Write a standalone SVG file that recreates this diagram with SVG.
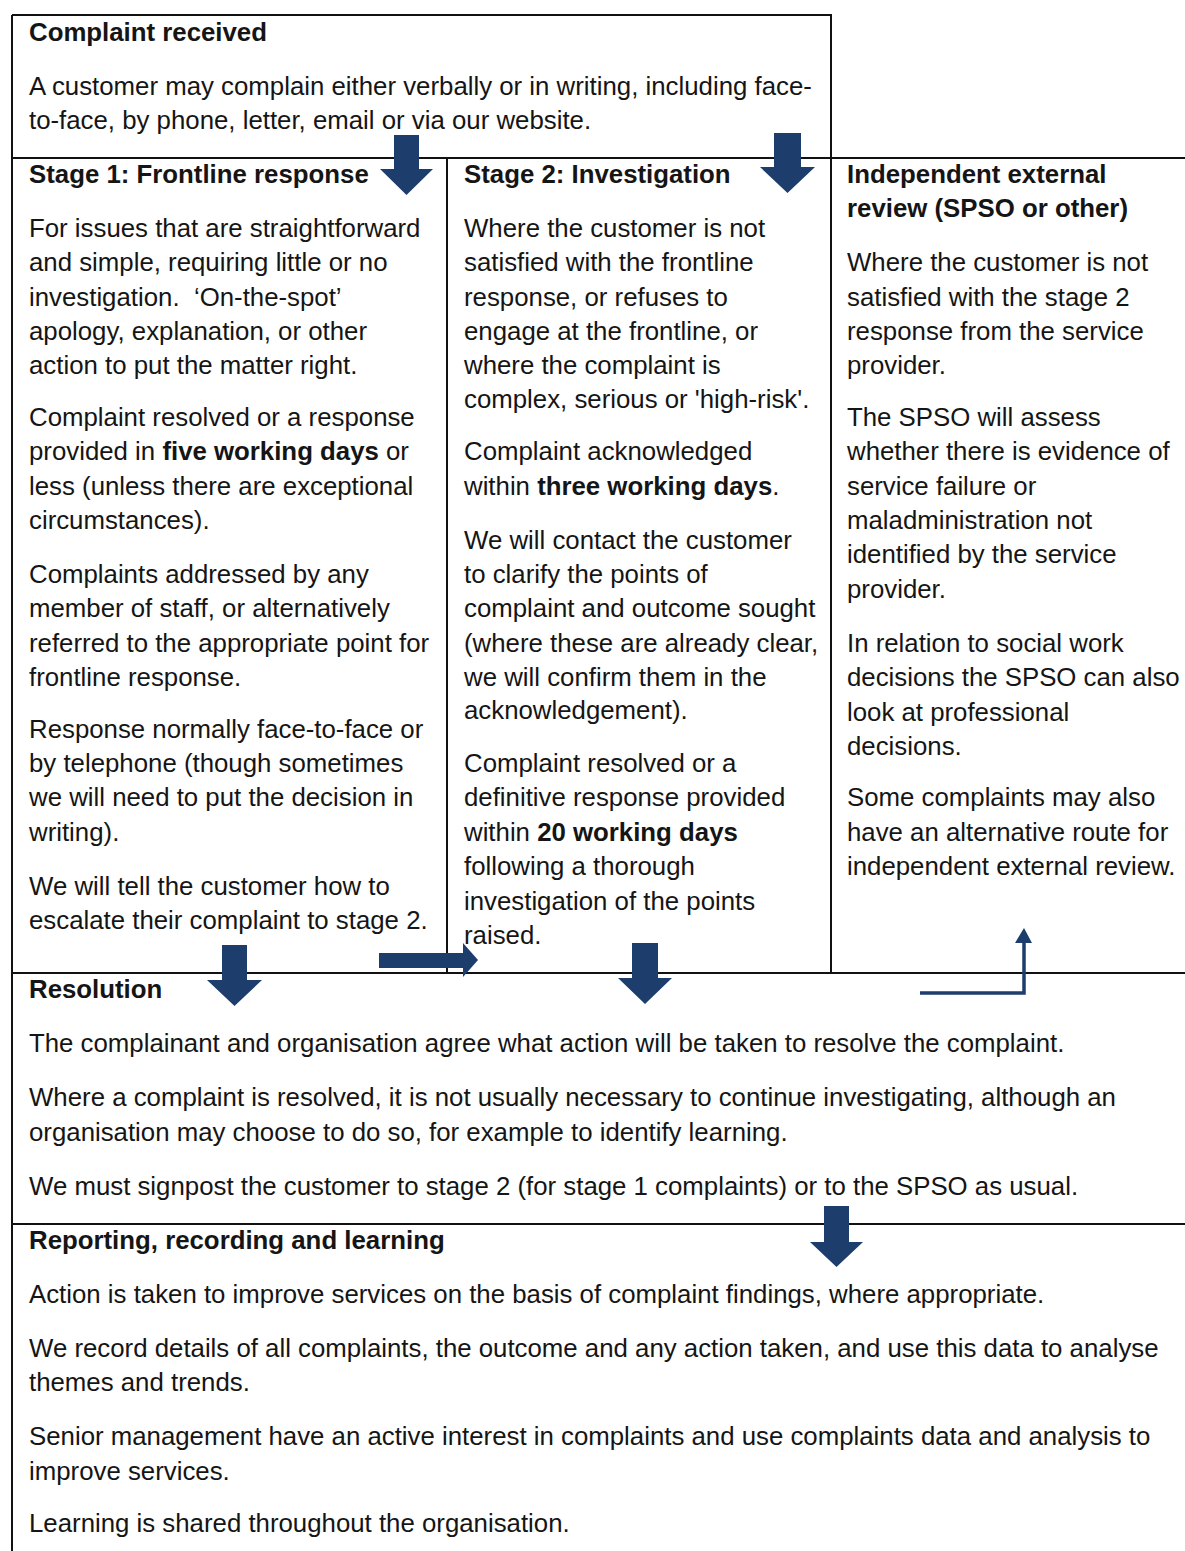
<svg xmlns="http://www.w3.org/2000/svg" width="1185" height="1551" viewBox="0 0 1185 1551">
<style>
text{font-family:"Liberation Sans",Arial,sans-serif;font-size:25.8px;fill:#151515}
.h{font-weight:bold}
.b{font-weight:bold}
.ln{stroke:#111;stroke-width:2;fill:none}
.ar{fill:#1d3d6c}
.thin{stroke:#1d3d6c;stroke-width:3.5;fill:none}
</style>
<rect width="1185" height="1551" fill="#fff"/>
<g id="frame">
<path class="ln" d="M12 15H831V973M12 15V1551M12 158H1185M447 158V973M12 973H1185M12 1224H1185"/>
</g>
<g id="complaint-received">
<text x="29" y="41" class="h">Complaint received</text>
<text x="29" y="95">A customer may complain either verbally or in writing, including face-</text>
<text x="29" y="129">to-face, by phone, letter, email or via our website.</text>
</g>
<g id="stage1">
<text x="29" y="183" class="h">Stage 1: Frontline response</text>
<text x="29" y="237">For issues that are straightforward</text>
<text x="29" y="271">and simple, requiring little or no</text>
<text x="29" y="306">investigation.&#160; ‘On-the-spot’</text>
<text x="29" y="340">apology, explanation, or other</text>
<text x="29" y="374">action to put the matter right.</text>
<text x="29" y="426">Complaint resolved or a response</text>
<text x="29" y="460">provided in <tspan class="b">five working days</tspan> or</text>
<text x="29" y="495">less (unless there are exceptional</text>
<text x="29" y="529">circumstances).</text>
<text x="29" y="583">Complaints addressed by any</text>
<text x="29" y="617">member of staff, or alternatively</text>
<text x="29" y="652">referred to the appropriate point for</text>
<text x="29" y="686">frontline response.</text>
<text x="29" y="738">Response normally face-to-face or</text>
<text x="29" y="772">by telephone (though sometimes</text>
<text x="29" y="806">we will need to put the decision in</text>
<text x="29" y="841">writing).</text>
<text x="29" y="895">We will tell the customer how to</text>
<text x="29" y="929">escalate their complaint to stage 2.</text>
</g>
<g id="stage2">
<text x="464" y="183" class="h">Stage 2: Investigation</text>
<text x="464" y="237">Where the customer is not</text>
<text x="464" y="271">satisfied with the frontline</text>
<text x="464" y="306">response, or refuses to</text>
<text x="464" y="340">engage at the frontline, or</text>
<text x="464" y="374">where the complaint is</text>
<text x="464" y="408">complex, serious or 'high-risk'.</text>
<text x="464" y="460">Complaint acknowledged</text>
<text x="464" y="495">within <tspan class="b">three working days</tspan>.</text>
<text x="464" y="549">We will contact the customer</text>
<text x="464" y="583">to clarify the points of</text>
<text x="464" y="617">complaint and outcome sought</text>
<text x="464" y="652">(where these are already clear,</text>
<text x="464" y="686">we will confirm them in the</text>
<text x="464" y="719">acknowledgement).</text>
<text x="464" y="772">Complaint resolved or a</text>
<text x="464" y="806">definitive response provided</text>
<text x="464" y="841">within <tspan class="b">20 working days</tspan></text>
<text x="464" y="875">following a thorough</text>
<text x="464" y="910">investigation of the points</text>
<text x="464" y="944">raised.</text>
</g>
<g id="external-review">
<text x="847" y="183" class="h">Independent external</text>
<text x="847" y="217" class="h">review (SPSO or other)</text>
<text x="847" y="271">Where the customer is not</text>
<text x="847" y="306">satisfied with the stage 2</text>
<text x="847" y="340">response from the service</text>
<text x="847" y="374">provider.</text>
<text x="847" y="426">The SPSO will assess</text>
<text x="847" y="460">whether there is evidence of</text>
<text x="847" y="495">service failure or</text>
<text x="847" y="529">maladministration not</text>
<text x="847" y="563">identified by the service</text>
<text x="847" y="598">provider.</text>
<text x="847" y="652">In relation to social work</text>
<text x="847" y="686">decisions the SPSO can also</text>
<text x="847" y="721">look at professional</text>
<text x="847" y="755">decisions.</text>
<text x="847" y="806">Some complaints may also</text>
<text x="847" y="841">have an alternative route for</text>
<text x="847" y="875">independent external review.</text>
</g>
<g id="resolution">
<text x="29" y="998" class="h">Resolution</text>
<text x="29" y="1052">The complainant and organisation agree what action will be taken to resolve the complaint.</text>
<text x="29" y="1106">Where a complaint is resolved, it is not usually necessary to continue investigating, although an</text>
<text x="29" y="1141">organisation may choose to do so, for example to identify learning.</text>
<text x="29" y="1195">We must signpost the customer to stage 2 (for stage 1 complaints) or to the SPSO as usual.</text>
</g>
<g id="reporting">
<text x="29" y="1249" class="h">Reporting, recording and learning</text>
<text x="29" y="1303">Action is taken to improve services on the basis of complaint findings, where appropriate.</text>
<text x="29" y="1357">We record details of all complaints, the outcome and any action taken, and use this data to analyse</text>
<text x="29" y="1391">themes and trends.</text>
<text x="29" y="1445">Senior management have an active interest in complaints and use complaints data and analysis to</text>
<text x="29" y="1480">improve services.</text>
<text x="29" y="1532">Learning is shared throughout the organisation.</text>
</g>
<g id="connectors">
<path class="ar" d="M394 135H419V169H433L406.5 195L380 169H394Z"/>
<path class="ar" d="M774 133H801V167H815L787.5 193L760 167H774Z"/>
<path class="ar" d="M222 945H247V980H262L234.5 1006L207 980H222Z"/>
<path class="ar" d="M379 953H463V943L478 960L463 977V968H379Z"/>
<path class="ar" d="M632 943H658V978H672L645 1004L618 978H632Z"/>
<path class="thin" d="M920 993H1024V940"/>
<path class="ar" d="M1015 943L1024 928L1032 943Z"/>
<path class="ar" d="M824 1206H849V1242H863L836.5 1267L810 1242H824Z"/>
</g>
</svg>
